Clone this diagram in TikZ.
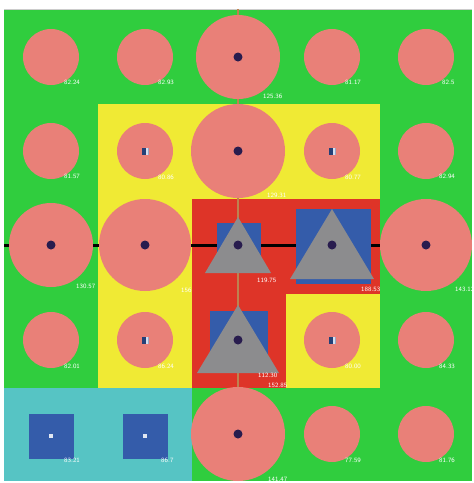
\documentclass[tikz,border=0pt]{standalone}
\usetikzlibrary{positioning}

\definecolor{grass}{RGB}{48,205,62}
\definecolor{lemon}{RGB}{240,234,52}
\definecolor{brick}{RGB}{222,52,40}
\definecolor{aqua}{RGB}{86,196,196}
\definecolor{salmon}{RGB}{233,128,120}
\definecolor{royal}{RGB}{52,92,170}
\definecolor{stone}{RGB}{140,140,142}
\definecolor{ink}{RGB}{40,28,78}
\definecolor{rust}{RGB}{190,130,80}

\tikzset{
	pit/.style={circle, fill=salmon, inner sep=0pt, minimum size=#1},
	hub/.style={circle, fill=ink, inner sep=0pt, minimum size=9pt},
	pad/.style={fill=royal, inner sep=0pt, minimum size=#1},
	val/.style={text=white, font=\sffamily\fontsize{6.5}{7}\selectfont, anchor=west, inner sep=0pt},
	icon/.style={fill=royal!70!black, inner sep=0pt, minimum width=7pt, minimum height=7pt,
		path picture={\fill[white!80!royal] (path picture bounding box.north east) rectangle ++(-2.5pt,-7pt);}},
	glyph/.style={fill=white!85!royal, inner sep=0pt, minimum width=4pt, minimum height=4pt},
	rail/.style={line width=3pt, black},
	stem/.style={line width=2pt, rust}
}

\begin{document}
\begin{tikzpicture}[x=1pt, y=-1pt]
	\useasboundingbox (0,0) rectangle (474,483);

	\fill[grass] (4,9) rectangle (472,481);
	\draw[gray!40, line width=0.8pt] (4,9) -- (472,9);
	\fill[lemon] (98,104) rectangle (380,388);
	\fill[brick] (192,199) rectangle (380,388);
	\fill[lemon] (286,294) rectangle (380,388);
	\fill[aqua] (4,388) rectangle (192,481);

	\coordinate (west) at (4,245);
	\coordinate (east) at (472,245);
	\coordinate (north) at (238,9);
	\coordinate (south) at (238,481);
	\draw[rail] (west) -- (east);
	\draw[stem] (north) -- (south);

	\node[pit=56] (p11) at (51,57) {};
	\node[pit=56] (p12) at (145,57) {};
	\node[pit=84] (p13) at (238,57) {};
	\node[pit=56] (p14) at (332,57) {};
	\node[pit=56] (p15) at (426,57) {};

	\node[pit=56] (p21) at (51,151) {};
	\node[pit=56] (p22) at (145,151) {};
	\node[pit=94] (p23) at (238,151) {};
	\node[pit=56] (p24) at (332,151) {};
	\node[pit=56] (p25) at (426,151) {};

	\node[pit=84] (p31) at (51,245) {};
	\node[pit=92] (p32) at (145,245) {};
	\node[pit=92] (p35) at (426,245) {};

	\node[pit=56] (p41) at (51,340) {};
	\node[pit=56] (p42) at (145,340) {};
	\node[pit=56] (p44) at (332,340) {};
	\node[pit=56] (p45) at (426,340) {};

	\node[pit=94] (p53) at (238,434) {};
	\node[pit=56] (p54) at (332,434) {};
	\node[pit=56] (p55) at (426,434) {};

	\node[pad=44] (b33) at (239,245) {};
	\node[pad=75] (b34) at (333,246) {};
	\node[pad=58] (b43) at (239,340) {};
	\node[pad=45] (b51) at (51,436) {};
	\node[pad=45] (b52) at (145,436) {};

	\fill[stone] (238,217) -- (271,273) -- (205,273) -- cycle;
	\fill[stone] (332,209) -- (374,279) -- (290,279) -- cycle;
	\fill[stone] (238,305) -- (279,373) -- (197,373) -- cycle;

	\node[hub] at (p13) {};
	\node[hub] at (p23) {};
	\node[hub] at (p31) {};
	\node[hub] at (p32) {};
	\node[hub] at (p35) {};
	\node[hub] at (p53) {};
	\node[hub] at (238,245) {};
	\node[hub] at (332,245) {};
	\node[hub] at (238,340) {};

	\node[icon] at (p22) {};
	\node[icon] at (p24) {};
	\node[icon] at (p42) {};
	\node[icon] at (p44) {};
	\node[glyph] at (b51) {};
	\node[glyph] at (b52) {};

	\node[val] at (64,82) {82.24};
	\node[val] at (158,82) {82.93};
	\node[val] at (263,96) {125.36};
	\node[val] at (345,82) {81.17};
	\node[val] at (442,82) {82.5};

	\node[val] at (64,176) {81.57};
	\node[val] at (158,177) {80.86};
	\node[val] at (267,195) {129.31};
	\node[val] at (345,177) {80.77};
	\node[val] at (439,176) {82.94};

	\node[val] at (76,286) {130.57};
	\node[val] at (181,290) {156};
	\node[val] at (257,280) {119.75};
	\node[val] at (361,289) {188.53};
	\node[val] at (455,289) {143.12};

	\node[val] at (64,366) {82.01};
	\node[val] at (158,366) {86.24};
	\node[val] at (258,375) {112.30};
	\node[val] at (268,385) {152.85};
	\node[val] at (345,366) {80.00};
	\node[val] at (439,366) {84.33};

	\node[val] at (64,460) {83.21};
	\node[val] at (161,460) {86.7};
	\node[val] at (268,479) {141.47};
	\node[val] at (345,460) {77.59};
	\node[val] at (439,460) {81.76};
\end{tikzpicture}
\end{document}
